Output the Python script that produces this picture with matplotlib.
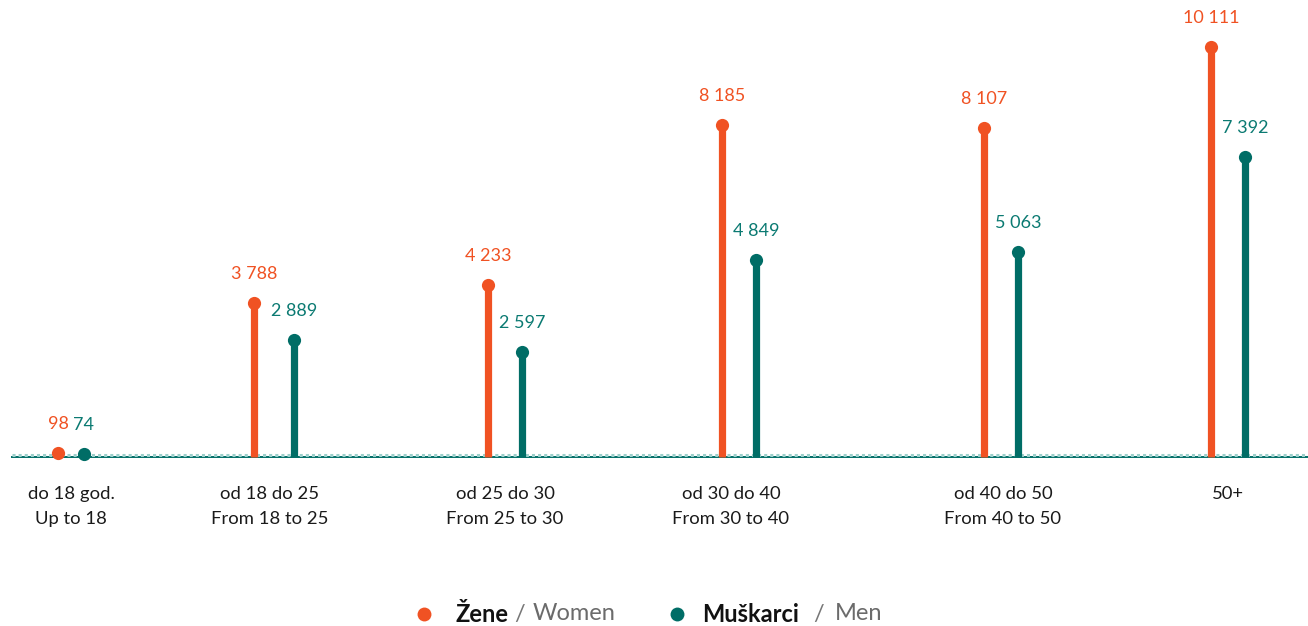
import matplotlib.pyplot as plt

plt.rcParams['font.family'] = ['Lato', 'DejaVu Sans']

groups_hr = ["do 18 god.", "od 18 do 25", "od 25 do 30", "od 30 do 40", "od 40 do 50", "50+"]
groups_en = ["Up to 18", "From 18 to 25", "From 25 to 30", "From 30 to 40", "From 40 to 50", ""]
women = [98, 3788, 4233, 8185, 8107, 10111]
men = [74, 2889, 2597, 4849, 5063, 7392]

# horizontal layout (pixel-like x units)
centers = [71, 270, 505, 731, 1003, 1228]
x_women = [58, 254, 488, 722, 984, 1211]
x_men = [84, 294, 522, 756, 1018, 1245]

ORANGE = "#F05223"
TEAL = "#006D66"
TEAL_TXT = "#0B7A72"

W, H = 1308, 626
base_px, top_px = 457, 47
k = (base_px - top_px) / max(women)

fig = plt.figure(figsize=(W / 100, H / 100), dpi=100)
ax = fig.add_axes([0, 0, 1, 1])
ax.set_xlim(0, W)
ax.set_ylim(-(H - base_px) / k, base_px / k)
ax.axis("off")


def fmt(v):
    return f"{v:,}".replace(",", " ")


# baseline: light dotted band with a solid line below
ax.plot([12, W], [0, 0], color=TEAL, lw=1.4, zorder=1)
ax.plot([12, W], [1.6 / k, 1.6 / k], color="#9CCFCB", lw=2.2, ls=(0, (1, 1)), zorder=1)

for xs, vals, col, tcol in [(x_women, women, ORANGE, ORANGE), (x_men, men, TEAL, TEAL_TXT)]:
    for x, v in zip(xs, vals):
        ax.plot([x, x], [0, v], color=col, lw=5.2, solid_capstyle="butt", zorder=2)
        ax.plot(x, v, "o", color=col, ms=9.5, mec="none", zorder=3)
        ax.text(x, v + 29 / k, fmt(v), color=tcol, fontsize=13, ha="center", va="center")

for c, hr, en in zip(centers, groups_hr, groups_en):
    ax.text(c, -(494 - base_px) / k, hr, fontsize=13.3, ha="center", va="center", color="#1a1a1a")
    if en:
        ax.text(c, -(519 - base_px) / k, en, fontsize=13.3, ha="center", va="center", color="#1a1a1a")

# legend
ly = -(614 - base_px) / k
ax.plot(424, ly, "o", color=ORANGE, ms=10, mec="none")
ax.text(455, ly, "Žene", fontsize=17, fontweight="bold", color="#111111", va="center")
ax.text(514, ly, "/", fontsize=17, color="#777777", va="center")
ax.text(533, ly, "Women", fontsize=17, color="#6b6b6b", va="center")
ax.plot(677, ly, "o", color=TEAL, ms=10, mec="none")
ax.text(702, ly, "Muškarci", fontsize=17, fontweight="bold", color="#111111", va="center")
ax.text(813, ly, "/", fontsize=17, color="#777777", va="center")
ax.text(835, ly, "Men", fontsize=17, color="#6b6b6b", va="center")

fig.savefig("out.png", dpi=100)
